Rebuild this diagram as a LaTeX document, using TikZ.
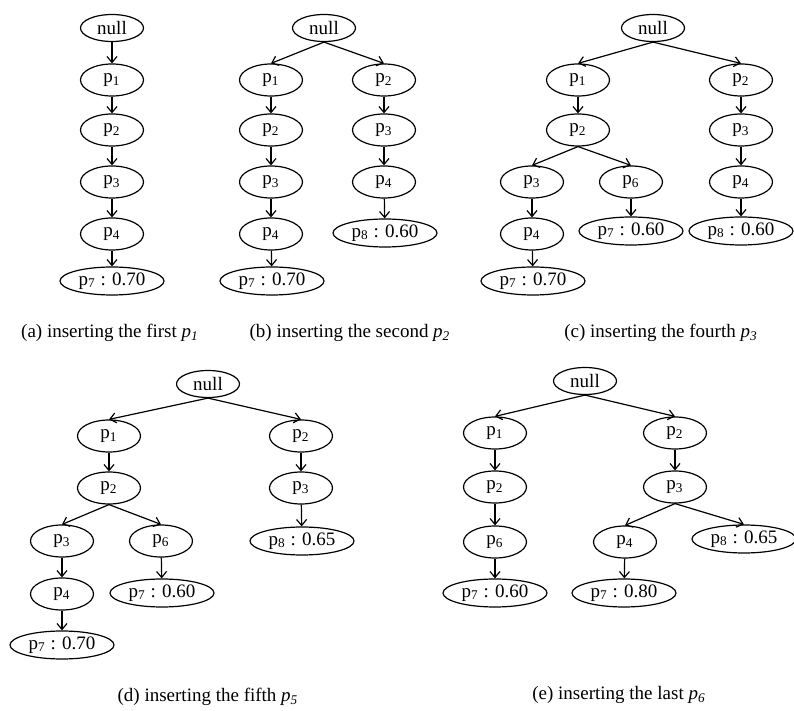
\documentclass[tikz,border=0pt]{standalone}
\usepackage{fontspec}
\setmainfont{Liberation Serif}
\usetikzlibrary{shapes.geometric,arrows.meta}

\begin{document}
\begin{tikzpicture}
      [x = 0.5pt, y = -0.5pt,
      font = \fontsize{9.5}{11}\selectfont,
      line width = 0.6pt,
      link/.style = {-{Straight Barb[length = 3pt, width = 5pt]}},
      item/.style = {
         draw,
         ellipse,
         inner sep = 0pt,
         minimum width = 31.5pt,
         minimum height = 16pt
      },
      root/.style = {
         item,
         minimum height = 13.5pt
      },
      leaf/.style = {
         item,
         minimum width = 52pt,
         minimum height = 14pt
      },
      caption/.style = {inner sep = 0pt}]

      \useasboundingbox (0, 0) rectangle (794, 711);

      % (a)
      \node[root] (a0) at (112, 28) {null};
      \node[item] (a1) at (112, 80) {p\textsubscript{1}};
      \node[item] (a2) at (112, 130) {p\textsubscript{2}};
      \node[item] (a3) at (112, 182) {p\textsubscript{3}};
      \node[item] (a4) at (112, 234) {p\textsubscript{4}};
      \node[leaf] (a5) at (112, 281) {p\textsubscript{7} : 0.70};
      \draw[link] (a0) -- (a1);
      \draw[link] (a1) -- (a2);
      \draw[link] (a2) -- (a3);
      \draw[link] (a3) -- (a4);
      \draw[link] (a4) -- (a5);
      \node[caption] (capa) at (110, 333) {(a) inserting the first \textit{p\textsubscript{1}}};

      % (b)
      \node[root] (b0) at (324, 28) {null};
      \node[item] (b1) at (271, 80) {p\textsubscript{1}};
      \node[item] (b2) at (271, 130) {p\textsubscript{2}};
      \node[item] (b3) at (271, 182) {p\textsubscript{3}};
      \node[item] (b4) at (271, 234) {p\textsubscript{4}};
      \node[leaf] (b5) at (272, 281) {p\textsubscript{7} : 0.70};
      \node[item] (b6) at (384, 80) {p\textsubscript{2}};
      \node[item] (b7) at (384, 130) {p\textsubscript{3}};
      \node[item] (b8) at (384, 182) {p\textsubscript{4}};
      \node[leaf] (b9) at (385, 233) {p\textsubscript{8} : 0.60};
      \draw[link] (b0.south) -- (b1.north);
      \draw[link] (b0.south) -- (b6.north);
      \draw[link] (b1) -- (b2);
      \draw[link] (b2) -- (b3);
      \draw[link] (b3) -- (b4);
      \draw[link] (b4) -- (b5);
      \draw[link] (b6) -- (b7);
      \draw[link] (b7) -- (b8);
      \draw[link] (b8) -- (b9);
      \node[caption] (capb) at (350, 333) {(b) inserting the second \textit{p\textsubscript{2}}};

      % (c)
      \node[root] (c0) at (653, 28) {null};
      \node[item] (c1) at (578, 80) {p\textsubscript{1}};
      \node[item] (c2) at (578, 130) {p\textsubscript{2}};
      \node[item] (c3) at (532, 182) {p\textsubscript{3}};
      \node[item] (c4) at (532, 234) {p\textsubscript{4}};
      \node[leaf] (c5) at (533, 281) {p\textsubscript{7} : 0.70};
      \node[item] (c6) at (631, 182) {p\textsubscript{6}};
      \node[leaf] (c7) at (631, 231) {p\textsubscript{7} : 0.60};
      \node[item] (c8) at (741, 80) {p\textsubscript{2}};
      \node[item] (c9) at (741, 130) {p\textsubscript{3}};
      \node[item] (c10) at (741, 182) {p\textsubscript{4}};
      \node[leaf] (c11) at (741, 231) {p\textsubscript{8} : 0.60};
      \draw[link] (c0.south) -- (c1.north);
      \draw[link] (c0.south) -- (c8.north);
      \draw[link] (c1) -- (c2);
      \draw[link] (c2.south) -- (c3.north);
      \draw[link] (c2.south) -- (c6.north);
      \draw[link] (c3) -- (c4);
      \draw[link] (c4) -- (c5);
      \draw[link] (c6) -- (c7);
      \draw[link] (c8) -- (c9);
      \draw[link] (c9) -- (c10);
      \draw[link] (c10) -- (c11);
      \node[caption] (capc) at (661, 333) {(c) inserting the fourth \textit{p\textsubscript{3}}};

      % (d)
      \node[root] (d0) at (208, 384) {null};
      \node[item] (d1) at (109, 436) {p\textsubscript{1}};
      \node[item] (d2) at (109, 488) {p\textsubscript{2}};
      \node[item] (d3) at (62, 541) {p\textsubscript{3}};
      \node[item] (d4) at (62, 594) {p\textsubscript{4}};
      \node[leaf] (d5) at (62, 645) {p\textsubscript{7} : 0.70};
      \node[item] (d6) at (161, 541) {p\textsubscript{6}};
      \node[leaf] (d7) at (162, 593) {p\textsubscript{7} : 0.60};
      \node[item] (d8) at (301, 436) {p\textsubscript{2}};
      \node[item] (d9) at (301, 488) {p\textsubscript{3}};
      \node[leaf] (d10) at (302, 541) {p\textsubscript{8} : 0.65};
      \draw[link] (d0.south) -- (d1.north);
      \draw[link] (d0.south) -- (d8.north);
      \draw[link] (d1) -- (d2);
      \draw[link] (d2.south) -- (d3.north);
      \draw[link] (d2.south) -- (d6.north);
      \draw[link] (d3) -- (d4);
      \draw[link] (d4) -- (d5);
      \draw[link] (d6) -- (d7);
      \draw[link] (d8) -- (d9);
      \draw[link] (d9) -- (d10);
      \node[caption] (capd) at (208, 697) {(d) inserting the fifth \textit{p\textsubscript{5}}};

      % (e)
      \node[root] (e0) at (585, 381) {null};
      \node[item] (e1) at (495, 433) {p\textsubscript{1}};
      \node[item] (e2) at (495, 487) {p\textsubscript{2}};
      \node[item] (e3) at (495, 542) {p\textsubscript{6}};
      \node[leaf] (e4) at (495, 593) {p\textsubscript{7} : 0.60};
      \node[item] (e5) at (675, 433) {p\textsubscript{2}};
      \node[item] (e6) at (675, 487) {p\textsubscript{3}};
      \node[item] (e7) at (625, 542) {p\textsubscript{4}};
      \node[leaf] (e8) at (624, 593) {p\textsubscript{7} : 0.80};
      \node[leaf] (e9) at (744, 539) {p\textsubscript{8} : 0.65};
      \draw[link] (e0.south) -- (e1.north);
      \draw[link] (e0.south) -- (e5.north);
      \draw[link] (e1) -- (e2);
      \draw[link] (e2) -- (e3);
      \draw[link] (e3) -- (e4);
      \draw[link] (e5) -- (e6);
      \draw[link] (e6.south) -- (e7.north);
      \draw[link] (e6.south) -- (e9.north);
      \draw[link] (e7) -- (e8);
      \node[caption] (cape) at (619, 695) {(e) inserting the last \textit{p\textsubscript{6}}};

\end{tikzpicture}
\end{document}
